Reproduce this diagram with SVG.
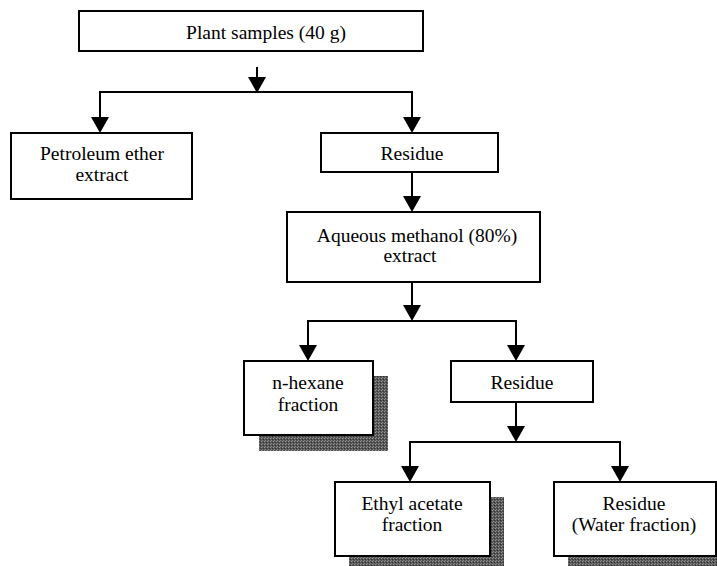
<svg xmlns="http://www.w3.org/2000/svg" width="717" height="566" viewBox="0 0 717 566">
<style>
.box{fill:#fff;stroke:#000;stroke-width:2}
.shadow{fill:url(#dots);stroke:none}
.lbl{font-family:'Liberation Serif','Times New Roman','DejaVu Serif',Times,serif;font-size:19.5px;fill:#000;text-anchor:middle}
.con{fill:none;stroke:#000;stroke-width:2}
</style>
<defs>
<pattern id="dots" width="3" height="3" patternUnits="userSpaceOnUse">
<rect width="3" height="3" fill="#555"/>
<rect x="0" y="0" width="1" height="1" fill="#999"/>
<rect x="2" y="1" width="1" height="1" fill="#333"/>
<rect x="1" y="2" width="1" height="1" fill="#888"/>
</pattern>
<marker id="arr" viewBox="0 0 16 18" refX="8" refY="9" markerWidth="16" markerHeight="18" markerUnits="userSpaceOnUse" orient="auto">
<path d="M0,0 L16,9 L0,18 Z" fill="#000"/>
</marker>
</defs>
<rect width="717" height="566" fill="#fff"/>
<g id="connectors">
<path class="con" d="M257,67 V85" marker-end="url(#arr)"/>
<path class="con" d="M99,92 H413"/>
<path class="con" d="M100,92 V125" marker-end="url(#arr)"/>
<path class="con" d="M412,92 V125" marker-end="url(#arr)"/>
<path class="con" d="M412,172 V204" marker-end="url(#arr)"/>
<path class="con" d="M412,282 V313" marker-end="url(#arr)"/>
<path class="con" d="M307,321 H517"/>
<path class="con" d="M308,321 V353" marker-end="url(#arr)"/>
<path class="con" d="M516,321 V353" marker-end="url(#arr)"/>
<path class="con" d="M516,402 V434" marker-end="url(#arr)"/>
<path class="con" d="M409,442 H621"/>
<path class="con" d="M410,442 V474" marker-end="url(#arr)"/>
<path class="con" d="M620,442 V474" marker-end="url(#arr)"/>
</g>
<g id="plant-samples">
<rect class="box" x="79" y="11" width="344" height="40"/>
<text class="lbl" x="266" y="39">Plant samples (40 g)</text>
</g>
<g id="petroleum-ether">
<rect class="box" x="11" y="133" width="181" height="66"/>
<text class="lbl" x="102" y="160">Petroleum ether</text>
<text class="lbl" x="102" y="181">extract</text>
</g>
<g id="residue-1">
<rect class="box" x="321" y="133" width="177" height="39"/>
<text class="lbl" x="412" y="160">Residue</text>
</g>
<g id="aqueous-methanol">
<rect class="box" x="287" y="212" width="253" height="70"/>
<text class="lbl" x="417" y="242">Aqueous methanol (80%)</text>
<text class="lbl" x="410" y="262">extract</text>
</g>
<g id="n-hexane">
<rect class="shadow" x="259" y="376" width="129" height="75"/>
<rect class="box" x="244" y="361" width="129" height="74"/>
<text class="lbl" x="308" y="389">n-hexane</text>
<text class="lbl" x="308" y="411">fraction</text>
</g>
<g id="residue-2">
<rect class="box" x="451" y="361" width="142" height="41"/>
<text class="lbl" x="522" y="389">Residue</text>
</g>
<g id="ethyl-acetate">
<rect class="shadow" x="349" y="497" width="155" height="75"/>
<rect class="box" x="335" y="482" width="155" height="74"/>
<text class="lbl" x="412" y="510">Ethyl acetate</text>
<text class="lbl" x="412" y="531">fraction</text>
</g>
<g id="water-fraction">
<rect class="shadow" x="568" y="497" width="162" height="75"/>
<rect class="box" x="554" y="482" width="162" height="74"/>
<text class="lbl" x="634" y="510">Residue</text>
<text class="lbl" x="634" y="531">(Water fraction)</text>
</g>
</svg>
